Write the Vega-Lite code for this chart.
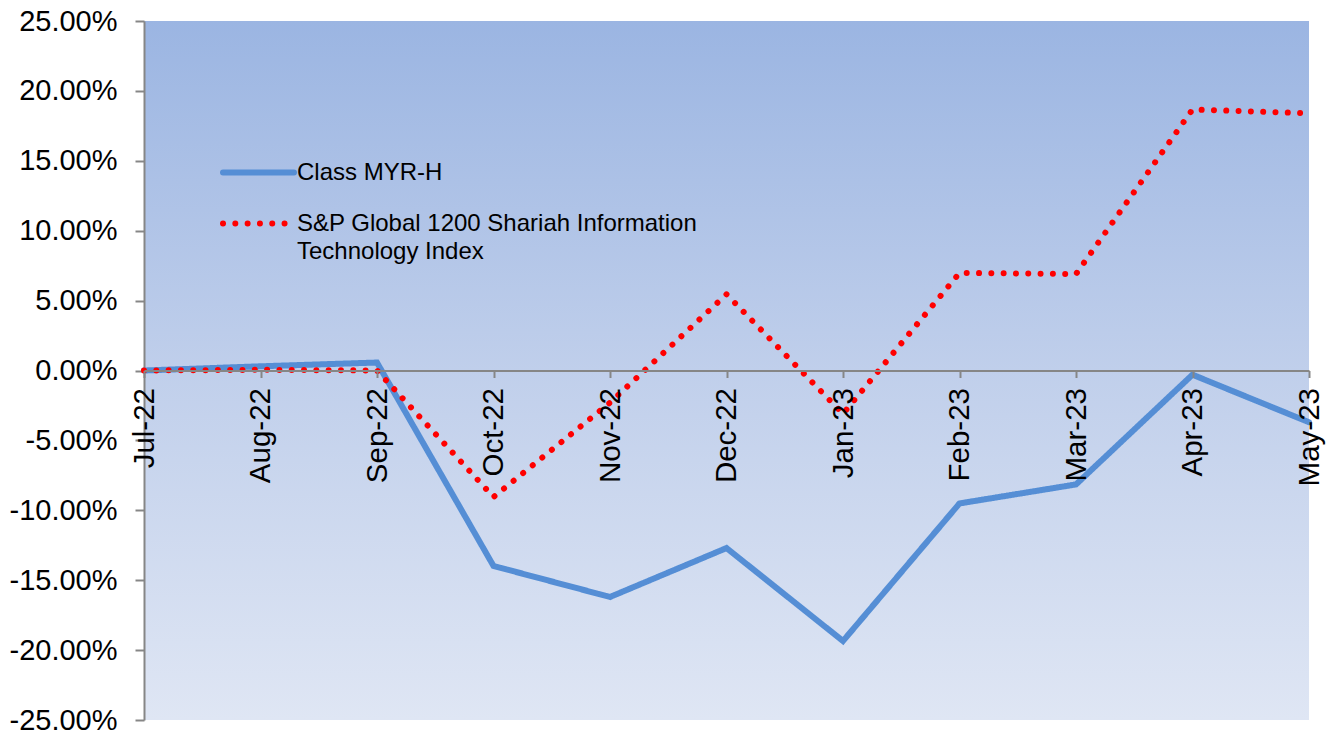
{
  "$schema": "https://vega.github.io/schema/vega-lite/v6.json",
  "autosize": "none",
  "width": 1165,
  "height": 699,
  "padding": {"left": 144, "top": 21, "right": 28, "bottom": 13},
  "background": "white",
  "view": {
    "stroke": null,
    "fill": {"gradient": "linear", "x1": 0, "y1": 0, "x2": 0, "y2": 1,
      "stops": [{"offset": 0, "color": "#9BB5E2"}, {"offset": 0.5, "color": "#C0CFEB"}, {"offset": 1, "color": "#DFE6F4"}]}
  },
  "config": {
    "font": "Liberation Sans",
    "axis": {"grid": false, "domainColor": "#868686", "tickColor": "#868686", "domainWidth": 2, "tickWidth": 2, "labelColor": "#000000", "labelFont": "Liberation Sans", "title": null}
  },
  "data": {
    "values": [
      {"month": "Jul-22", "series": "Class MYR-H", "value": 0.0},
      {"month": "Aug-22", "series": "Class MYR-H", "value": 0.003},
      {"month": "Sep-22", "series": "Class MYR-H", "value": 0.0057},
      {"month": "Oct-22", "series": "Class MYR-H", "value": -0.1398},
      {"month": "Nov-22", "series": "Class MYR-H", "value": -0.162},
      {"month": "Dec-22", "series": "Class MYR-H", "value": -0.127},
      {"month": "Jan-23", "series": "Class MYR-H", "value": -0.1935},
      {"month": "Feb-23", "series": "Class MYR-H", "value": -0.0951},
      {"month": "Mar-23", "series": "Class MYR-H", "value": -0.0815},
      {"month": "Apr-23", "series": "Class MYR-H", "value": -0.003},
      {"month": "May-23", "series": "Class MYR-H", "value": -0.037},
      {"month": "Jul-22", "series": "S&P Global 1200 Shariah Information Technology Index", "value": 0.0},
      {"month": "Aug-22", "series": "S&P Global 1200 Shariah Information Technology Index", "value": 0.0005},
      {"month": "Sep-22", "series": "S&P Global 1200 Shariah Information Technology Index", "value": 0.0},
      {"month": "Oct-22", "series": "S&P Global 1200 Shariah Information Technology Index", "value": -0.0905},
      {"month": "Nov-22", "series": "S&P Global 1200 Shariah Information Technology Index", "value": -0.023},
      {"month": "Dec-22", "series": "S&P Global 1200 Shariah Information Technology Index", "value": 0.0545},
      {"month": "Jan-23", "series": "S&P Global 1200 Shariah Information Technology Index", "value": -0.031},
      {"month": "Feb-23", "series": "S&P Global 1200 Shariah Information Technology Index", "value": 0.0698},
      {"month": "Mar-23", "series": "S&P Global 1200 Shariah Information Technology Index", "value": 0.069},
      {"month": "Apr-23", "series": "S&P Global 1200 Shariah Information Technology Index", "value": 0.1867},
      {"month": "May-23", "series": "S&P Global 1200 Shariah Information Technology Index", "value": 0.184}
    ]
  },
  "mark": {"type": "line", "strokeWidth": 6, "strokeCap": "round", "strokeJoin": "miter"},
  "encoding": {
    "x": {
      "field": "month", "type": "ordinal",
      "sort": ["Jul-22","Aug-22","Sep-22","Oct-22","Nov-22","Dec-22","Jan-23","Feb-23","Mar-23","Apr-23","May-23"],
      "scale": {"type": "point", "padding": 0},
      "axis": {"offset": -349.5, "labelAngle": -90, "tickSize": 7, "labelPadding": 10, "labelFontSize": 29.5, "zindex": 1}
    },
    "y": {
      "field": "value", "type": "quantitative",
      "scale": {"domain": [-0.25, 0.25], "nice": false, "zero": false},
      "axis": {"values": [-0.25,-0.2,-0.15,-0.1,-0.05,0,0.05,0.1,0.15,0.2,0.25],
        "labelExpr": "(datum.value < -0.0001 ? '-' : '') + format(abs(datum.value), '.2%')",
        "tickSize": 9, "labelPadding": 18, "labelFontSize": 29}
    },
    "color": {
      "field": "series", "type": "nominal",
      "scale": {"domain": ["Class MYR-H", "S&P Global 1200 Shariah Information Technology Index"], "range": ["#558ED5", "#FF0000"]},
      "legend": {
        "title": null, "orient": "none", "legendX": 76, "legendY": 113, "padding": 0,
        "symbolType": "stroke", "symbolSize": 5041, "symbolStrokeWidth": 6,
        "labelFontSize": 24, "labelFont": "Liberation Sans", "labelColor": "#000000", "labelLimit": 700, "labelOffset": 0,
        "rowPadding": -15, "labelBaseline": "top",
        "labelExpr": "datum.label == 'Class MYR-H' ? datum.label : ['S&P Global 1200 Shariah Information', 'Technology Index']",
        "encoding": {
          "symbols": {"strokeCap": {"value": "round"}},
          "labels": {"lineHeight": {"value": 28}, "dy": {"value": -12}}
        }
      }
    },
    "strokeDash": {
      "field": "series", "type": "nominal",
      "scale": {"domain": ["Class MYR-H", "S&P Global 1200 Shariah Information Technology Index"], "range": [[1, 0], [0.01, 12.3]]},
      "legend": null
    }
  }
}
